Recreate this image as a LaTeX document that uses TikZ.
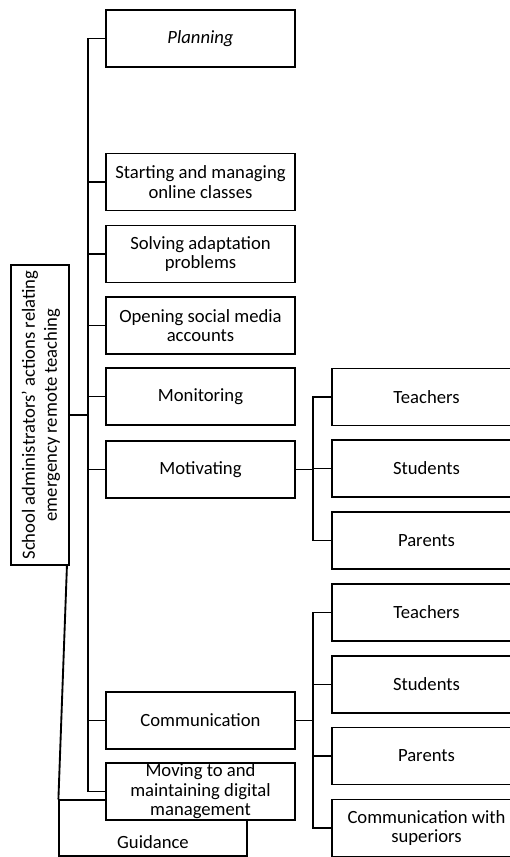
\documentclass[tikz,border=0pt]{standalone}
\usepackage{fontspec}
\setmainfont{Carlito}
\begin{document}
\begin{tikzpicture}[x=0.75pt, y=-0.75pt, line width=1.4pt,
        box/.style={draw, fill=white, minimum width=141.75pt, minimum height=42.75pt,
                    align=center, inner sep=0pt, font=\fontsize{14pt}{14.6pt}\selectfont},
        thinbox/.style={draw, line width=0.9pt, minimum width=141pt, minimum height=42pt, inner sep=0pt},
        txt/.style={inner sep=0pt, align=center, font=\fontsize{14pt}{14.6pt}\selectfont}]
        \useasboundingbox (0,0) rectangle (510,857);

        % Trunk and branch lines
        \coordinate (tk) at (88,0);
        \coordinate (st) at (313,0);

        % Guidance box (lies under the last branch box)
        \node[thinbox] (guid) at (153,828) {};
        \node[txt] (guidtxt) at (153,842) {Guidance};

        % Root box
        \node[draw, minimum width=43.5pt, minimum height=225pt, inner sep=0pt] (root) at (40,415) {};
        \node[txt, rotate=90, font=\fontsize{14pt}{16.5pt}\selectfont] (roottxt) at (41,415)
            {School administrators' actions relating\\emergency remote teaching};

        % Main branches
        \node[box] (plan) at (200.5,38.5) {\itshape Planning};
        \node[box] (start) at (200.5,182) {Starting and managing\\online classes};
        \node[box] (solve) at (200.5,254) {Solving adaptation\\problems};
        \node[box] (open) at (200.5,325.5) {Opening social media\\accounts};
        \node[box] (mon) at (200.5,396.5) {Monitoring};
        \node[box] (motiv) at (200.5,469.5) {Motivating};
        \node[box] (comm) at (200.5,720.5) {Communication};
        \node[box] (move) at (200.5,791.5) {Moving to and\\maintaining digital\\management};

        % Motivating sub-branches
        \node[box] (mt) at (426.5,397) {Teachers};
        \node[box] (ms) at (426.5,468.5) {Students};
        \node[box] (mp) at (426.5,540.5) {Parents};

        % Communication sub-branches
        \node[box] (ct) at (426.5,612.5) {Teachers};
        \node[box] (cs) at (426.5,684.5) {Students};
        \node[box] (cp) at (426.5,756) {Parents};
        \node[box] (csup) at (426.5,828) {Communication with\\superiors};

        % Connectors
        \draw (root.east) -- (root.east -| tk);
        \draw (plan.west) -- (plan.west -| tk) -- (move.west -| tk) -- (move.west);
        \foreach \n in {start,solve,open,mon,motiv,comm}
            \draw (\n.west) -- (\n.west -| tk);
        \draw (motiv.east) -- (motiv.east -| st);
        \draw (mt.west) -- (mt.west -| st) -- (mp.west -| st) -- (mp.west);
        \draw (ms.west) -- (ms.west -| st);
        \draw (comm.east) -- (comm.east -| st);
        \draw (ct.west) -- (ct.west -| st) -- (csup.west -| st) -- (csup.west);
        \foreach \n in {cs,cp}
            \draw (\n.west) -- (\n.west -| st);
        \draw ([xshift=-2.25pt]root.south east) -- (guid.north west);
    \end{tikzpicture}
\end{document}
